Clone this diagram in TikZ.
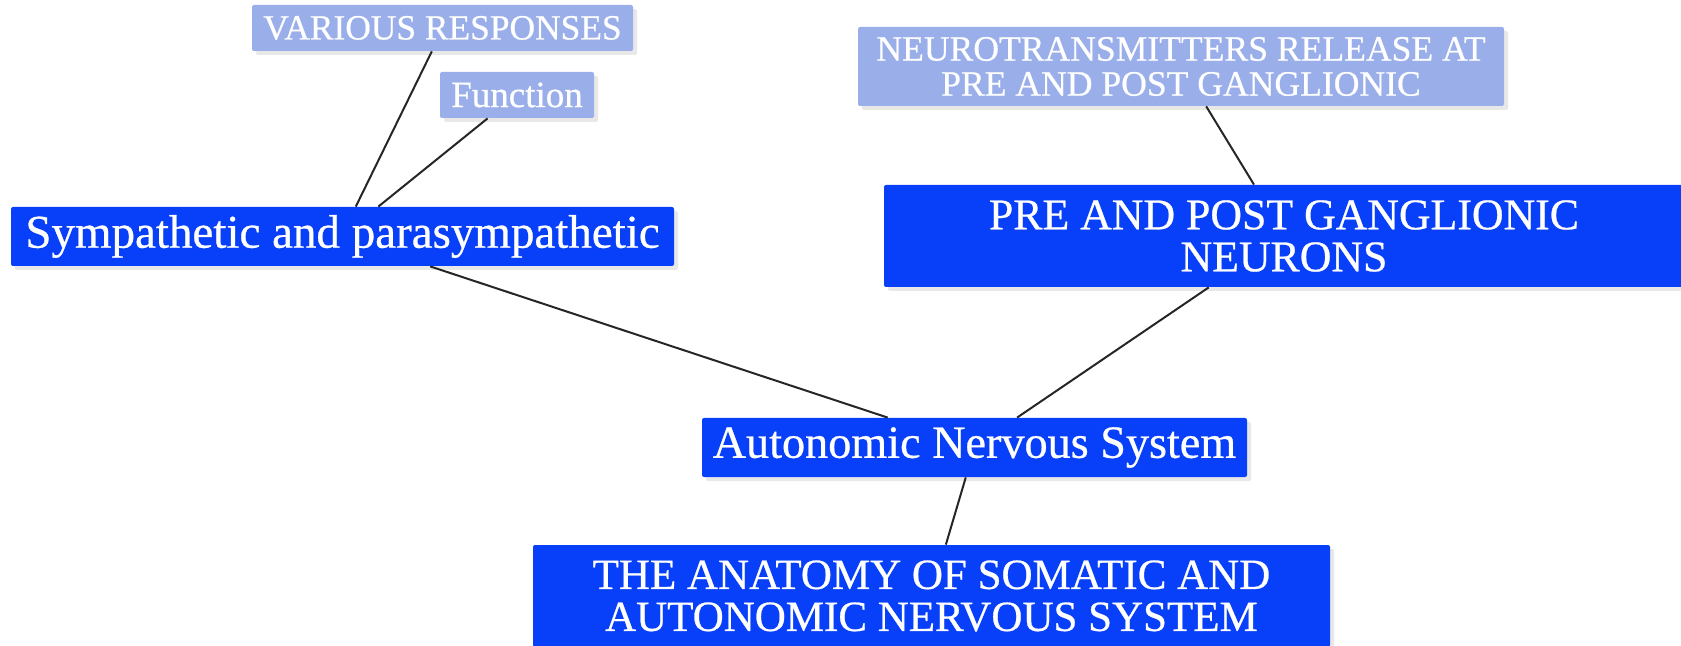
\documentclass[tikz,border=0pt]{standalone}
\usepackage{fontspec}
\setmainfont{Liberation Serif}[FakeBold=0.6]
\usetikzlibrary{calc,shadows}
\definecolor{deepblue}{RGB}{8,64,250}
\definecolor{paleblue}{RGB}{154,174,234}
\begin{document}
\begin{tikzpicture}[x=0.5pt,y=-0.5pt,
  box/.style={rectangle, rounded corners=1pt, inner sep=0pt, text=white, align=center,
    drop shadow={shadow xshift=2pt, shadow yshift=-2pt, opacity=0.18}},
  mainbox/.style={box, fill=deepblue},
  subbox/.style={box, fill=paleblue},
  link/.style={draw=black!85, line width=1pt}]
\useasboundingbox (0,0) rectangle (1681,646);

\node[subbox, minimum width=190.5pt, minimum height=23pt, font=\fontsize{17.7}{18}\selectfont] (vr) at (442.5,28) {VARIOUS RESPONSES};
\node[subbox, minimum width=77pt, minimum height=23pt, font=\fontsize{18.5}{20}\selectfont] (fn) at (517,95) {Function};
\node[mainbox, minimum width=331.5pt, minimum height=29.5pt, font=\fontsize{23.5}{24}\selectfont] (sym) at (342.5,236.5) {Sympathetic and parasympathetic};
\node[subbox, minimum width=323pt, minimum height=39.5pt, font=\fontsize{17.8}{17.5}\selectfont] (nt) at (1181,66.5) {NEUROTRANSMITTERS RELEASE AT\\PRE AND POST GANGLIONIC};
\node[mainbox, minimum width=400pt, minimum height=51pt, font=\fontsize{21.9}{21}\selectfont] (pre) at (1284,236) {PRE AND POST GANGLIONIC\\NEURONS};
\node[mainbox, minimum width=272.5pt, minimum height=29.5pt, font=\fontsize{23.1}{24}\selectfont] (ans) at (974.5,447.5) {Autonomic Nervous System};
\node[mainbox, minimum width=398.5pt, minimum height=51pt, font=\fontsize{21.5}{21}\selectfont] (anat) at (931.5,596) {THE ANATOMY OF SOMATIC AND\\AUTONOMIC NERVOUS SYSTEM};

\draw[link] ($(vr.south west)!0.472!(vr.south east)$) -- ($(sym.north west)!0.520!(sym.north east)$);
\draw[link] ($(fn.south west)!0.31!(fn.south east)$) -- ($(sym.north west)!0.554!(sym.north east)$);
\draw[link] ($(sym.south west)!0.632!(sym.south east)$) -- ($(ans.north west)!0.341!(ans.north east)$);
\draw[link] ($(nt.south west)!0.539!(nt.south east)$) -- ($(pre.north west)!0.4625!(pre.north east)$);
\draw[link] ($(pre.south west)!0.406!(pre.south east)$) -- ($(ans.north west)!0.578!(ans.north east)$);
\draw[link] ($(ans.south west)!0.484!(ans.south east)$) -- ($(anat.north west)!0.518!(anat.north east)$);
\end{tikzpicture}
\end{document}
